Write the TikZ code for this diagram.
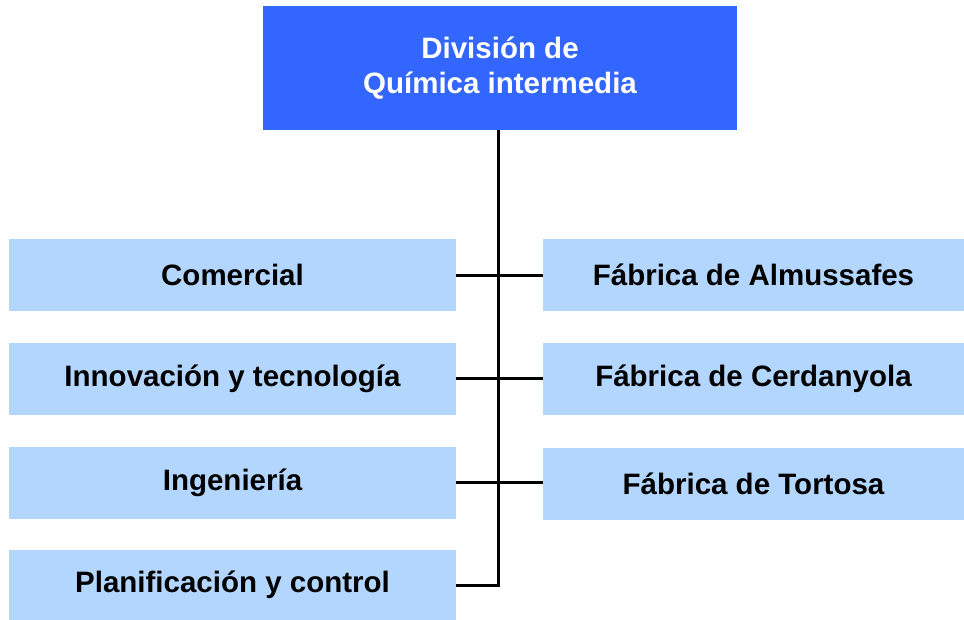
\documentclass[tikz,border=0pt]{standalone}
\usepackage{fontspec}
\setmainfont{Liberation Sans}
\definecolor{topblue}{RGB}{51,102,255}
\definecolor{lightblue}{RGB}{179,214,255}
\begin{document}
\begin{tikzpicture}[x=1pt,y=-1pt,
  box/.style={fill=lightblue,draw=none,inner sep=0pt,font=\fontsize{29.5}{35}\selectfont\bfseries,text=black,align=center},
  topbox/.style={fill=topblue,draw=none,inner sep=0pt,font=\fontsize{29.5}{35}\selectfont\bfseries,text=white,align=center},
  conn/.style={draw=black,line width=3pt}]
\useasboundingbox (0,0) rectangle (964,619);
\node[topbox,minimum width=474pt,minimum height=124pt] (top) at (500,68) {División de\\Química intermedia};
\node[box,minimum width=447pt,minimum height=72pt] (l1) at (232.5,275) {Comercial};
\node[box,minimum width=447pt,minimum height=72pt] (l2) at (232.5,378.5) {Innovación y tecnología};
\node[box,minimum width=447pt,minimum height=72pt] (l3) at (232.5,482.5) {Ingeniería};
\node[box,minimum width=447pt,minimum height=70pt] (l4) at (232.5,585) {Planificación y control};
\node[box,minimum width=421pt,minimum height=72pt] (r1) at (753.5,275) {Fábrica de Almussafes};
\node[box,minimum width=421pt,minimum height=72pt] (r2) at (753.5,378.5) {Fábrica de Cerdanyola};
\node[box,minimum width=421pt,minimum height=72pt] (r3) at (753.5,483.5) {Fábrica de Tortosa};
\coordinate (bend) at (498,585);
\draw[conn] (top.south -| bend) -- (bend) -- (l4.east);
\draw[conn] (l1.east) -- (r1.west);
\draw[conn] (l2.east) -- (r2.west);
\draw[conn] (l3.east) -- (l3.east -| r3.west);
\end{tikzpicture}
\end{document}
